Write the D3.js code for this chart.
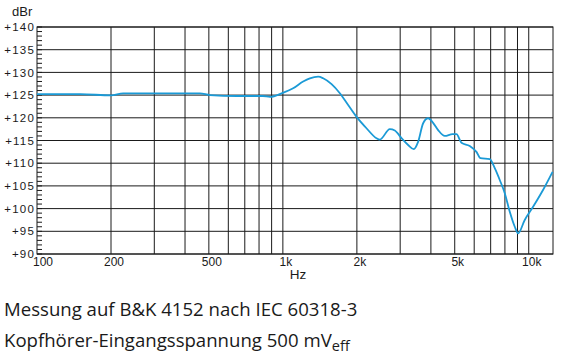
<!DOCTYPE html>
<html><head><meta charset="utf-8">
<script src="https://cdn.jsdelivr.net/npm/d3@7"></script>
<style>
html,body{margin:0;padding:0;background:#fff;}
svg{display:block;}
</style></head>
<body>
<svg id="chart" width="565" height="355"></svg>
<script>
// Data
const freqHz = [100,150,200,224,300,400,460,505,650,829,886,1000,1101,1209,1288,1392,1458,1578,1705,1843,1994,2188,2403,2479,2722,2853,3038,3231,3408,3548,3720,3897,4083,4280,4556,4896,5082,5326,5755,6126,6364,6942,7274,7623,7989,8372,8774,9049,9632,10413,11430,12500];
const levelDbr = [125.2,125.2,124.95,125.4,125.4,125.4,125.4,125.0,124.8,124.8,124.6,125.5,126.5,128.0,128.7,129.05,128.7,127.4,125.4,122.8,120.2,117.7,115.5,115.2,117.5,117.2,115.5,114.0,113.1,114.7,118.8,119.9,118.9,117.3,116.0,116.4,116.4,114.5,113.8,112.5,111.1,110.9,108.9,106.3,103.4,99.3,96.0,94.55,97.5,100.4,104.1,108.1];
const yTicks = [90,95,100,105,110,115,120,125,130,135,140];
const xTickValues = [100,200,500,1000,2000,5000,10000];
const xTickLabels = ["100","200","500","1k","2k","5k","10k"];
const xGrid = [200,300,400,500,600,700,800,900,1000,2000,3000,4000,5000,6000,7000,8000,9000,10000];
const captionLine1 = "Messung auf B&K 4152 nach IEC 60318-3";
const captionLine2 = "Kopfhörer-Eingangsspannung 500 mV";
const captionSub = "eff";

const svg = d3.select("#chart");
const L = 37, R = 553, T = 27, B = 254;
const x = d3.scaleLog().domain([100, 12550]).range([L, R]);
const y = d3.scaleLinear().domain([90, 140]).range([B, T]);
const FONT = "Liberation Sans, Arial, sans-serif";

const g = svg.append("g");
g.selectAll("line.h").data(yTicks).join("line")
  .attr("x1", L).attr("x2", R).attr("y1", d => y(d)).attr("y2", d => y(d))
  .attr("stroke", "#1a1a1a").attr("stroke-width", 1);
g.selectAll("line.v").data(xGrid).join("line")
  .attr("x1", d => x(d)).attr("x2", d => x(d)).attr("y1", T).attr("y2", B)
  .attr("stroke", "#1a1a1a").attr("stroke-width", 1);
g.append("rect").attr("x", L).attr("y", T).attr("width", R - L).attr("height", B - T)
  .attr("fill", "none").attr("stroke", "#1a1a1a").attr("stroke-width", 1);
g.selectAll("line.m").data(d3.range(90, 141, 1)).join("line")
  .attr("x1", L).attr("x2", L + 5).attr("y1", d => y(d)).attr("y2", d => y(d))
  .attr("stroke", "#1a1a1a").attr("stroke-width", 1);

// y labels
svg.selectAll("text.yl").data(yTicks).join("text")
  .attr("x", 35).attr("y", d => y(d)).attr("dy", "0.36em")
  .attr("text-anchor", "end")
  .attr("font-family", FONT).attr("font-size", 11.5).attr("letter-spacing", 1.2)
  .attr("fill", "#1a1a1a")
  .text(d => "+" + d);
svg.append("text").attr("x", 12).attr("y", 16)
  .attr("font-family", FONT).attr("font-size", 13)
  .attr("fill", "#1a1a1a").text("dBr");

// x labels
svg.selectAll("text.xl").data(xTickValues).join("text")
  .attr("x", (d, i) => x(d) + (i === 0 ? 6 : 3)).attr("y", 266)
  .attr("text-anchor", "middle")
  .attr("font-family", FONT).attr("font-size", 12)
  .attr("fill", "#1a1a1a")
  .text((d, i) => xTickLabels[i]);
svg.append("text").attr("x", 298).attr("y", 279).attr("text-anchor", "middle")
  .attr("font-family", FONT).attr("font-size", 13.5)
  .attr("fill", "#1a1a1a").text("Hz");

// curve
const pts = freqHz.map((f, i) => [f, levelDbr[i]]);
svg.append("path").datum(pts)
  .attr("fill", "none").attr("stroke", "#1b9ad6").attr("stroke-width", 1.8)
  .attr("stroke-linejoin", "round")
  .attr("d", d3.line().x(d => x(d[0])).y(d => y(d[1])).curve(d3.curveMonotoneX));

// caption
const cap = svg.append("g").attr("font-family", "Open Sans, Noto Sans, sans-serif").attr("fill", "#1a1a1a");
cap.append("text").attr("x", 4).attr("y", 316).attr("font-size", 18.6).text(captionLine1);
const t2 = cap.append("text").attr("x", 4).attr("y", 347).attr("font-size", 18.6);
t2.append("tspan").text(captionLine2);
t2.append("tspan").attr("dy", 4).attr("font-size", 14.5).text(captionSub);
</script>
</body></html>
